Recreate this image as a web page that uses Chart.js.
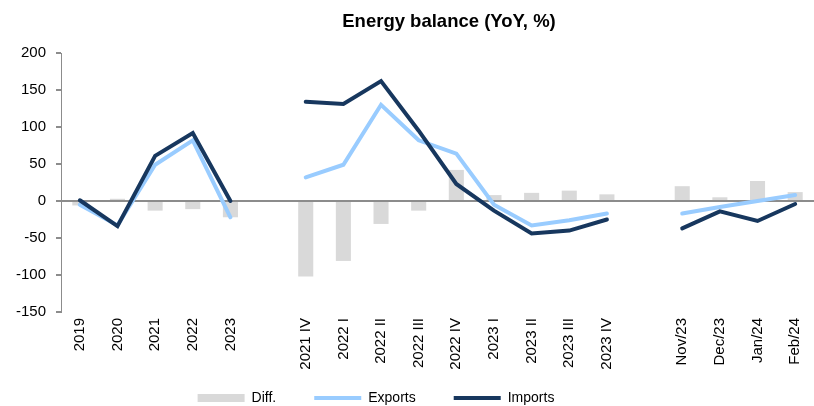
<!DOCTYPE html>
<html>
<head>
<meta charset="utf-8">
<script src="https://cdn.jsdelivr.net/npm/chart.js@4"></script>
<style>
  body { margin: 0; background: #fff; }
  #wrap { position: relative; width: 814px; height: 406px; overflow: hidden; }
  #title {
    position: absolute; top: 10px; left: 66px; width: 766px;
    text-align: center; font: bold 18.5px "Liberation Sans", Arial, sans-serif; color: #000;
  }
</style>
</head>
<body>
<div id="wrap">
  <div id="title">Energy balance (YoY, %)</div>
  <canvas id="chart" width="814" height="406"></canvas>
</div>
<script>
  // Categories (empty strings are the gaps between the three blocks)
  const labels = ['2019', '2020', '2021', '2022', '2023', '',
    '2021 IV', '2022 I', '2022 II', '2022 III', '2022 IV', '2023 I', '2023 II', '2023 III', '2023 IV', '',
    'Nov/23', 'Dec/23', 'Jan/24', 'Feb/24'];

  // Series values
  const diffValues = [-6, 3, -13, -11, -22, null,
    -102, -81, -31, -13, 42, 8, 11, 14, 9, null,
    20, 5, 27, 12];
  const exportValues = [-5, -33, 49, 82, -22, null,
    32, 49, 130, 82, 64, -5, -33, -26, -17, null,
    -17, -8, 0, 8];
  const importValues = [1, -34, 61, 92, 0, null,
    134, 131, 162, 95, 23, -13, -44, -40, -25, null,
    -37, -14, -27, -4];

  const yTicks = [-150, -100, -50, 0, 50, 100, 150, 200];

  const family = '"Liberation Sans", Arial, sans-serif';

  // extra em-spaces after each legend label, to spread the items like the original
  const legendGaps = [2, 2, 5];

  new Chart(document.getElementById('chart'), {
    data: {
      labels: labels,
      datasets: [
        {
          type: 'bar',
          label: 'Diff.',
          data: diffValues,
          backgroundColor: '#d9d9d9',
          borderWidth: 0,
          barPercentage: 0.8,
          categoryPercentage: 0.5,
          pointStyle: 'rect',
          order: 3
        },
        {
          type: 'line',
          label: 'Exports',
          data: exportValues,
          borderColor: '#99ccff',
          backgroundColor: '#99ccff',
          borderWidth: 4,
          borderCapStyle: 'round',
          pointRadius: 0,
          pointStyle: 'line',
          tension: 0,
          spanGaps: false,
          order: 2
        },
        {
          type: 'line',
          label: 'Imports',
          data: importValues,
          borderColor: '#17375e',
          backgroundColor: '#17375e',
          borderWidth: 4,
          borderCapStyle: 'round',
          pointRadius: 0,
          pointStyle: 'line',
          tension: 0,
          spanGaps: false,
          order: 1
        }
      ]
    },
    options: {
      responsive: false,
      animation: false,
      layout: { padding: { top: 53, right: -8, left: 0, bottom: -9 } },
      plugins: {
        title: { display: false },
        tooltip: { enabled: false },
        legend: {
          position: 'bottom',
          labels: {
            usePointStyle: true,
            pointStyleWidth: 47,
            boxHeight: 8,
            padding: 10,
            color: '#000',
            font: { family: family, size: 14 },
            generateLabels: function(chart) {
              const items = Chart.defaults.plugins.legend.labels.generateLabels(chart);
              items.sort((a, b) => a.datasetIndex - b.datasetIndex);
              items.forEach(item => {
                item.text = item.text + '\u2003'.repeat(legendGaps[item.datasetIndex]);
              });
              return items;
            }
          }
        }
      },
      scales: {
        x: {
          grid: { display: false },
          border: { display: false },
          ticks: {
            color: '#000',
            font: { family: family, size: 15 },
            maxRotation: 90,
            minRotation: 90,
            autoSkip: false,
            padding: -2
          },
          afterFit: (scale) => { scale.height = 69; }
        },
        y: {
          min: -150,
          max: 200,
          afterBuildTicks: (scale) => { scale.ticks = yTicks.map(v => ({ value: v })); },
          grid: {
            color: (ctx) => ctx.tick && ctx.tick.value === 0 ? '#8c8c8c' : 'rgba(0,0,0,0)',
            lineWidth: 2,
            tickColor: '#8c8c8c',
            tickLength: 5,
            drawTicks: true
          },
          border: { display: true, color: '#8c8c8c', width: 1 },
          ticks: { color: '#000', font: { family: family, size: 15 }, padding: 10 },
          afterFit: (scale) => { scale.width = 61; }
        }
      }
    }
  });
</script>
</body>
</html>
